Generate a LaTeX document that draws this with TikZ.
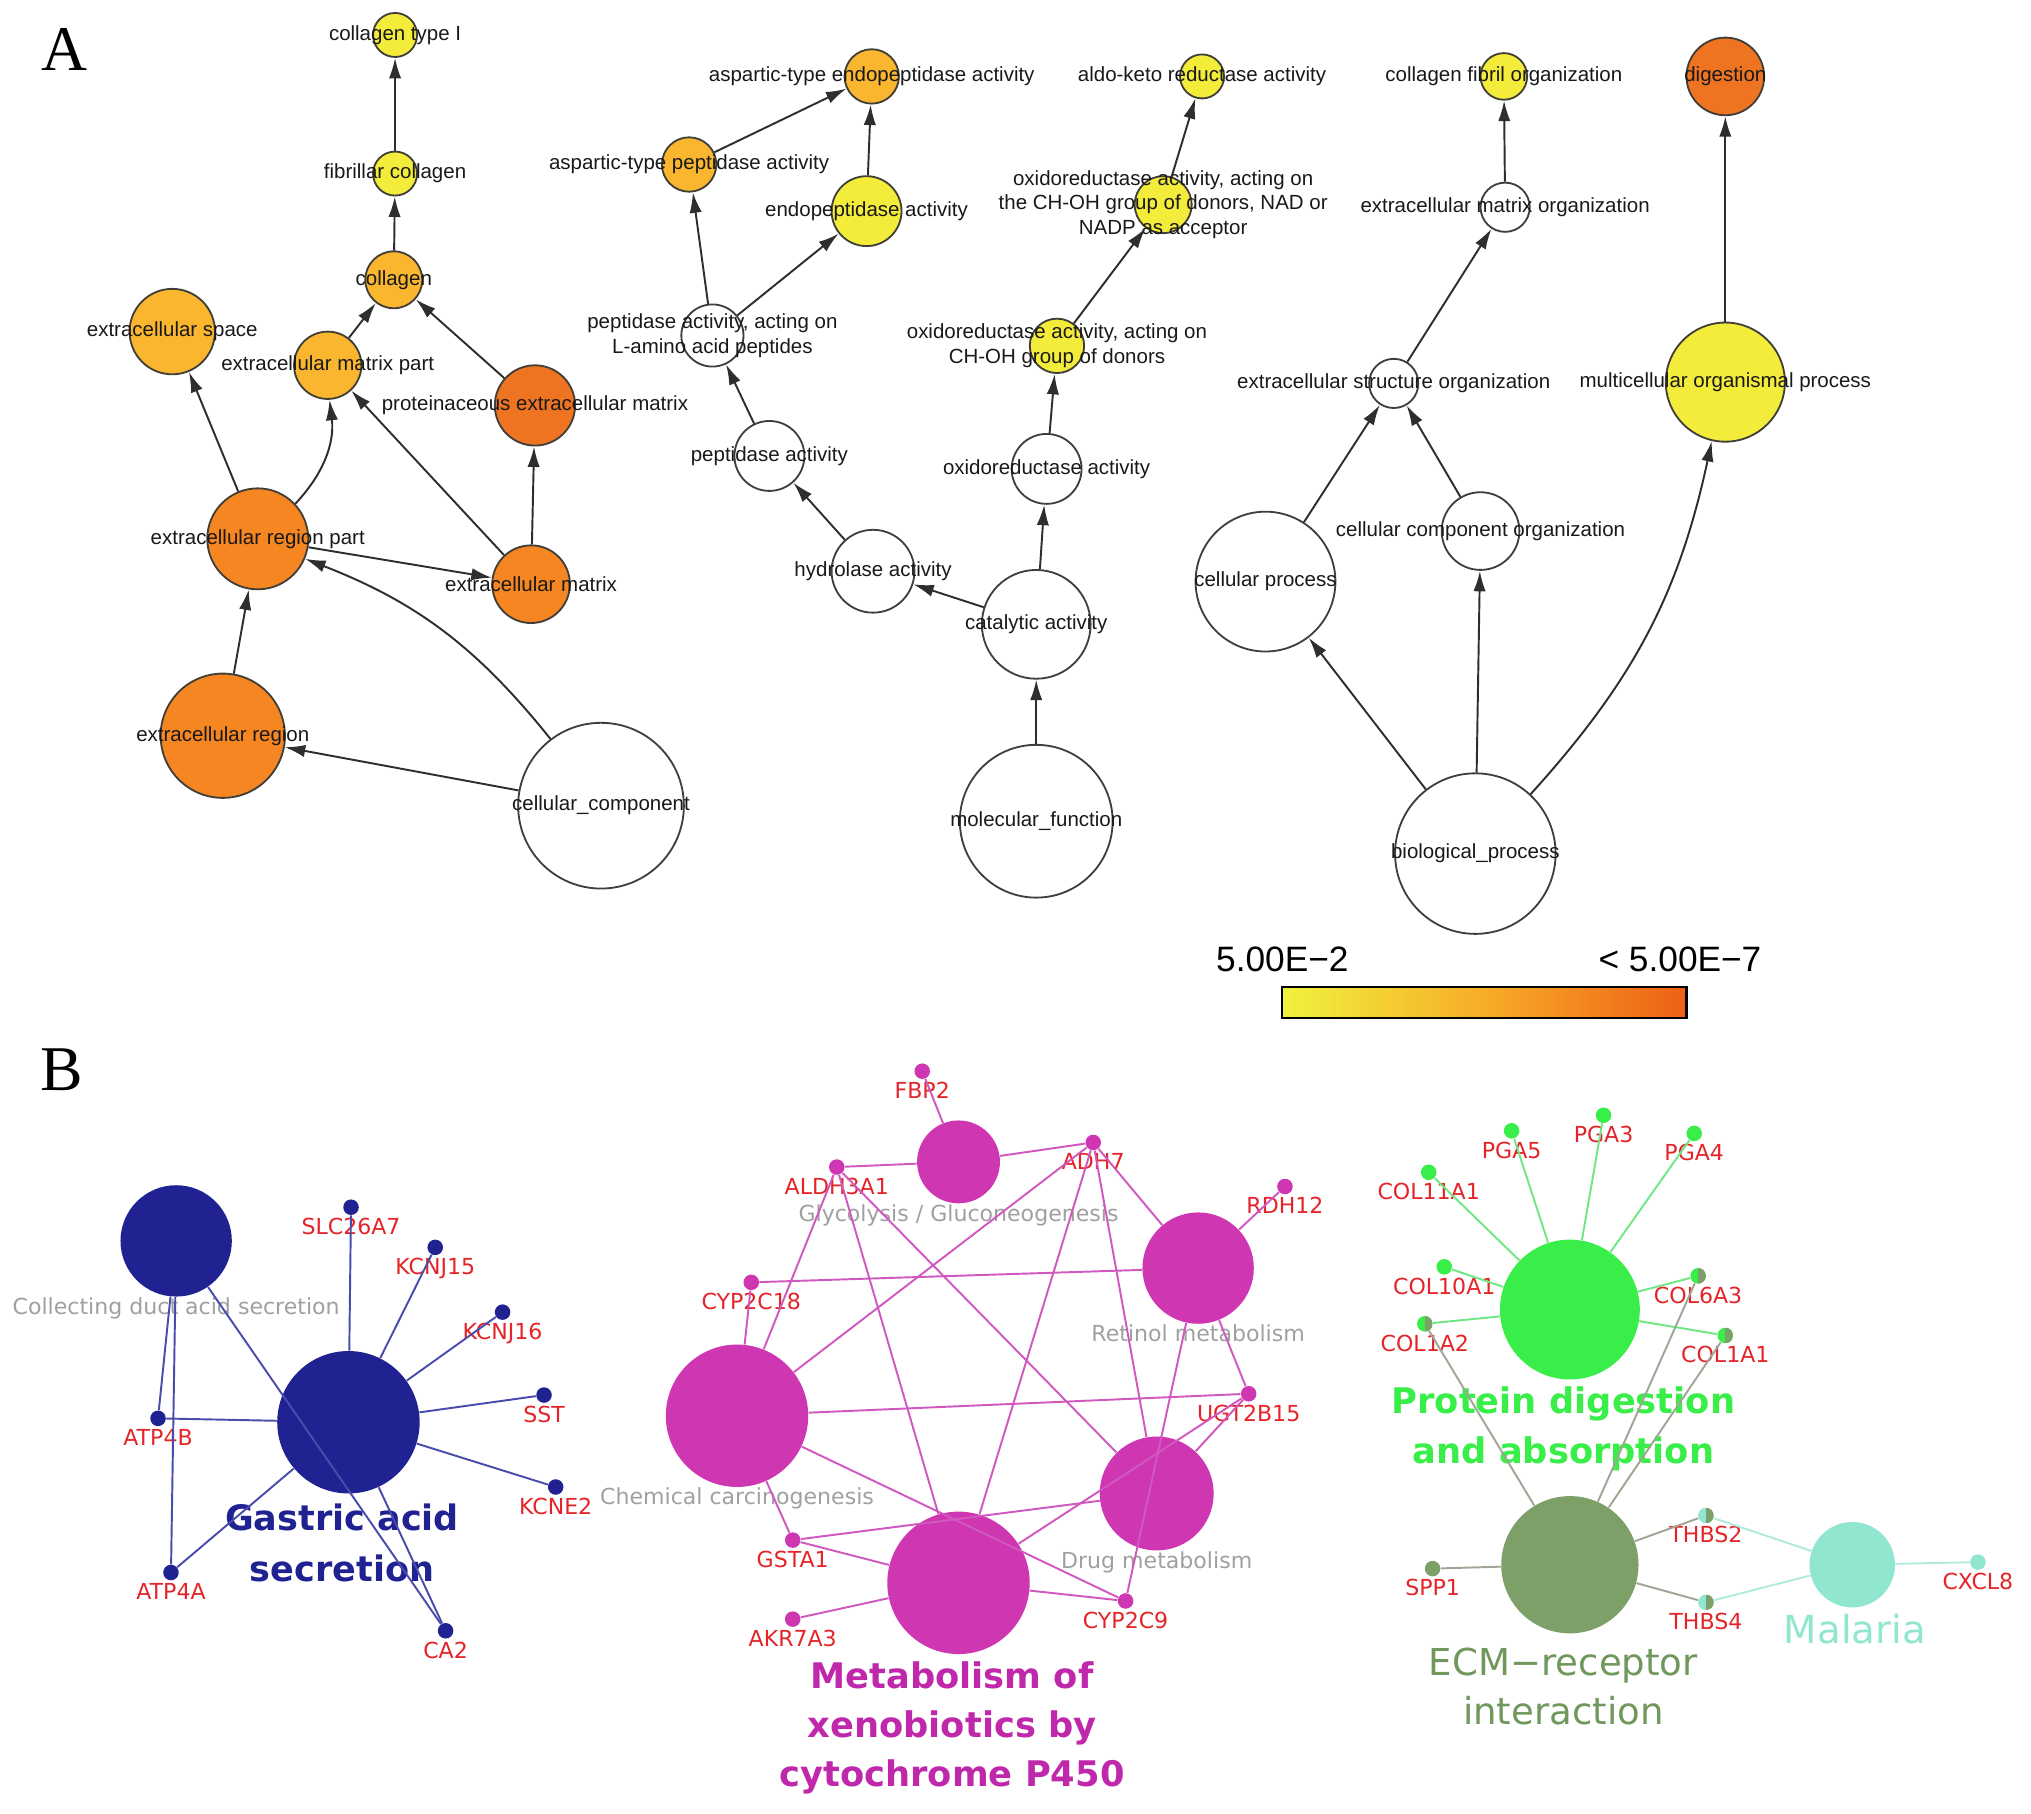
\documentclass[tikz,border=0pt]{standalone}
\usepackage{fontspec}
\setmainfont{Liberation Sans}
\newfontfamily\gofont{Liberation Sans}
\newfontfamily\keggfont{DejaVu Sans}
\newfontfamily\panelfont{Liberation Serif}
\usetikzlibrary{arrows.meta}

\definecolor{goyellow}{RGB}{244,236,58}
\definecolor{golight}{RGB}{249,182,46}
\definecolor{goorange}{RGB}{245,134,33}
\definecolor{godark}{RGB}{238,116,34}
\definecolor{goline}{RGB}{64,62,56}
\definecolor{goedge}{RGB}{46,46,46}
\definecolor{gotext}{RGB}{25,25,25}
\definecolor{cbyellow}{RGB}{240,242,62}
\definecolor{cbmid}{RGB}{247,172,40}
\definecolor{cbred}{RGB}{238,96,22}
\definecolor{gastblue}{RGB}{32,34,146}
\definecolor{gastline}{RGB}{74,76,172}
\definecolor{xenopink}{RGB}{206,54,178}
\definecolor{xenoline}{RGB}{208,88,190}
\definecolor{xenotext}{RGB}{192,40,172}
\definecolor{protgreen}{RGB}{58,238,74}
\definecolor{protline}{RGB}{112,230,132}
\definecolor{ecmgreen}{RGB}{124,160,104}
\definecolor{ecmline}{RGB}{160,166,150}
\definecolor{ecmtext}{RGB}{112,152,92}
\definecolor{malaqua}{RGB}{145,230,208}
\definecolor{malline}{RGB}{176,236,222}
\definecolor{genered}{RGB}{228,36,40}
\definecolor{pwgray}{RGB}{160,160,160}

\begin{document}
\begin{tikzpicture}[x=0.02cm, y=-0.02cm,
  go/.style={circle, draw=goline, line width=0.8pt, inner sep=0pt, minimum size=#1*0.04cm},
  golab/.style={font=\gofont\fontsize{9}{10.8}\selectfont, text=gotext, align=center, inner sep=0pt},
  goarrow/.style={draw=goedge, line width=0.85pt, -{Latex[length=9pt,width=5.4pt]}},
  cblab/.style={font=\gofont\fontsize{15.5}{16}\selectfont, text=black, inner sep=0pt},
  panel/.style={font=\panelfont\fontsize{28}{28}\selectfont, inner sep=0pt},
  pwnode/.style 2 args={circle, fill=#1, inner sep=0pt, minimum size=#2*0.04cm, label distance=2pt},
  pwlab/.style={font=\keggfont\fontsize{9.7}{11}\selectfont, text=pwgray, inner sep=0pt},
  gene/.style={circle, fill=#1, inner sep=0pt, minimum size=0.24cm, label distance=2.8pt},
  halfgene/.style 2 args={gene=#1, path picture={\fill[#2] (path picture bounding box.north) rectangle (path picture bounding box.south east);}},
  genelab/.style={font=\keggfont\fontsize{9.7}{11}\selectfont, text=genered, inner sep=1pt},
  biglab/.style={font=\keggfont\bfseries\fontsize{15.4}{22.5}\selectfont, align=center, inner sep=0pt},
  gastlink/.style={draw=gastline, line width=0.85pt},
  xenolink/.style={draw=xenoline, line width=0.85pt},
  protlink/.style={draw=protline, line width=0.85pt},
  ecmlink/.style={draw=ecmline, line width=0.85pt},
  mallink/.style={draw=malline, line width=0.85pt}]

\useasboundingbox (0,0) rectangle (1568,1400);

% ---- panel A
\node[panel] (panelA) at (50,38) {A};

% cellular component tree
\node[go=17, fill=goyellow, label={[golab]center:collagen type I}] (coltype) at (305,27) {};
\node[go=17, fill=goyellow, label={[golab]center:fibrillar collagen}] (fibcol) at (305,134) {};
\node[go=22, fill=golight, label={[golab]center:collagen}] (collagen) at (304,216) {};
\node[go=33, fill=golight, label={[golab]center:extracellular space}] (exspace) at (133,256) {};
\node[go=26, fill=golight, label={[golab]center:extracellular matrix part}] (exmpart) at (253,282) {};
\node[go=31, fill=godark, label={[golab]center:proteinaceous extracellular matrix}] (protmat) at (413,313) {};
\node[go=39, fill=goorange, label={[golab]center:extracellular region part}] (exrpart) at (199,416) {};
\node[go=30, fill=goorange, label={[golab]center:extracellular matrix}] (exmat) at (410,451) {};
\node[go=48, fill=goorange, label={[golab]center:extracellular region}] (exreg) at (172,568) {};
\node[go=64, fill=white, label={[golab]center:cellular\_component}] (cellcomp) at (464,622) {};

\draw[goarrow] (fibcol) -- (coltype);
\draw[goarrow] (collagen) -- (fibcol);
\draw[goarrow] (exmpart) -- (collagen);
\draw[goarrow] (protmat) -- (collagen);
\draw[goarrow] (exrpart) -- (exspace);
\draw[goarrow] (exrpart) to[bend right=25] (exmpart);
\draw[goarrow] (exmat) -- (exmpart);
\draw[goarrow] (exmat) -- (protmat);
\draw[goarrow] (exrpart) -- (exmat);
\draw[goarrow] (exreg) -- (exrpart);
\draw[goarrow] (cellcomp) -- (exreg);
\draw[goarrow] (cellcomp) to[bend right=15] (exrpart);

% molecular function tree
\node[go=21, fill=golight, label={[golab]center:aspartic-type endopeptidase activity}] (aspendo) at (673,59) {};
\node[go=21, fill=golight, label={[golab]center:aspartic-type peptidase activity}] (asppep) at (532,127) {};
\node[go=27, fill=goyellow, label={[golab]center:endopeptidase activity}] (endopep) at (669,163) {};
\node[go=24, fill=white, label={[golab]center:peptidase activity, acting on\\L-amino acid peptides}] (pepamino) at (550,259) {};
\node[go=27, fill=white, label={[golab]center:peptidase activity}] (pepact) at (594,352) {};
\node[go=32, fill=white, label={[golab]center:hydrolase activity}] (hydro) at (674,441) {};
\node[go=42, fill=white, label={[golab]center:catalytic activity}] (catal) at (800,482) {};
\node[go=59, fill=white, label={[golab]center:molecular\_function}] (molfun) at (800,634) {};
\node[go=27, fill=white, label={[golab]center:oxidoreductase activity}] (oxido) at (808,362) {};
\node[go=21, fill=goyellow, label={[golab]center:oxidoreductase activity, acting on\\CH-OH group of donors}] (chohgrp) at (816,267) {};
\node[go=22, fill=goyellow, label={[golab]center:oxidoreductase activity, acting on\\the CH-OH group of donors, NAD or\\NADP as acceptor}] (nadp) at (898,158) {};
\node[go=17, fill=goyellow, label={[golab]center:aldo-keto reductase activity}] (aldoketo) at (928,59) {};

\draw[goarrow] (asppep) -- (aspendo);
\draw[goarrow] (endopep) -- (aspendo);
\draw[goarrow] (pepamino) -- (asppep);
\draw[goarrow] (pepamino) -- (endopep);
\draw[goarrow] (pepact) -- (pepamino);
\draw[goarrow] (hydro) -- (pepact);
\draw[goarrow] (catal) -- (hydro);
\draw[goarrow] (molfun) -- (catal);
\draw[goarrow] (catal) -- (oxido);
\draw[goarrow] (oxido) -- (chohgrp);
\draw[goarrow] (chohgrp) -- (nadp);
\draw[goarrow] (nadp) -- (aldoketo);

% biological process tree
\node[go=18, fill=goyellow, label={[golab]center:collagen fibril organization}] (colfibril) at (1161,59) {};
\node[go=30, fill=godark, label={[golab]center:digestion}] (digest) at (1332,59) {};
\node[go=19, fill=white, label={[golab]center:extracellular matrix organization}] (exmorg) at (1162,160) {};
\node[go=19, fill=white, label={[golab]center:extracellular structure organization}] (exsorg) at (1076,296) {};
\node[go=46, fill=goyellow, label={[golab]center:multicellular organismal process}] (multi) at (1332,295) {};
\node[go=54, fill=white, label={[golab]center:cellular process}] (cellproc) at (977,449) {};
\node[go=30, fill=white, label={[golab]center:cellular component organization}] (ccorg) at (1143,410) {};
\node[go=62, fill=white, label={[golab]center:biological\_process}] (bioproc) at (1139,659) {};

\draw[goarrow] (exmorg) -- (colfibril);
\draw[goarrow] (exsorg) -- (exmorg);
\draw[goarrow] (cellproc) -- (exsorg);
\draw[goarrow] (ccorg) -- (exsorg);
\draw[goarrow] (bioproc) -- (cellproc);
\draw[goarrow] (bioproc) -- (ccorg);
\draw[goarrow] (bioproc) to[bend right=15] (multi);
\draw[goarrow] (multi) -- (digest);

% colour scale
\shade[left color=cbyellow, right color=cbred, middle color=cbmid] (990,762) rectangle (1302,786);
\draw[line width=1pt] (990,762) rectangle (1302,786);
\node[cblab] (cbmin) at (990,741) {5.00E−2};
\node[cblab] (cbmax) at (1297,741) {< 5.00E−7};

% ---- panel B
\node[panel] (panelB) at (48,826) {B};

% gastric acid secretion
\node[pwnode={gastblue}{43}, label={[pwlab]below:Collecting duct acid secretion}] (colduct) at (136,958) {};
\node[pwnode={gastblue}{55}] (gastric) at (269,1098) {};
\node[gene=gastblue, label={[genelab]below:SLC26A7}] (slc26a7) at (271,932) {};
\node[gene=gastblue, label={[genelab]below:KCNJ15}] (kcnj15) at (336,963) {};
\node[gene=gastblue, label={[genelab]below:KCNJ16}] (kcnj16) at (388,1013) {};
\node[gene=gastblue, label={[genelab]below:SST}] (sst) at (420,1077) {};
\node[gene=gastblue, label={[genelab]below:KCNE2}] (kcne2) at (429,1148) {};
\node[gene=gastblue, label={[genelab]below:CA2}] (ca2) at (344,1259) {};
\node[gene=gastblue, label={[genelab]below:ATP4A}] (atp4a) at (132,1214) {};
\node[gene=gastblue, label={[genelab]below:ATP4B}] (atp4b) at (122,1095) {};
\node[biglab, text=gastblue] (gastlab) at (264,1191) {Gastric acid\\secretion};

\draw[gastlink] (gastric) -- (slc26a7);
\draw[gastlink] (gastric) -- (kcnj15);
\draw[gastlink] (gastric) -- (kcnj16);
\draw[gastlink] (gastric) -- (sst);
\draw[gastlink] (gastric) -- (kcne2);
\draw[gastlink] (gastric) -- (ca2);
\draw[gastlink] (gastric) -- (atp4a);
\draw[gastlink] (gastric) -- (atp4b);
\draw[gastlink] (colduct) -- (atp4b);
\draw[gastlink] (colduct) -- (atp4a);
\draw[gastlink] (colduct) -- (ca2);

% xenobiotics cluster
\node[pwnode={xenopink}{32}, label={[pwlab]below:Glycolysis / Gluconeogenesis}] (glyco) at (740,897) {};
\node[pwnode={xenopink}{43}, label={[pwlab]below:Retinol metabolism}] (retinol) at (925,979) {};
\node[pwnode={xenopink}{55}, label={[pwlab]below:Chemical carcinogenesis}] (chemcarc) at (569,1093) {};
\node[pwnode={xenopink}{44}, label={[pwlab]below:Drug metabolism}] (drugmet) at (893,1153) {};
\node[pwnode={xenopink}{55}] (xeno) at (740,1222) {};
\node[gene=xenopink, label={[genelab]below:FBP2}] (fbp2) at (712,827) {};
\node[gene=xenopink, label={[genelab]below:ADH7}] (adh7) at (844,882) {};
\node[gene=xenopink, label={[genelab]below:ALDH3A1}] (aldh3a1) at (646,901) {};
\node[gene=xenopink, label={[genelab]below:RDH12}] (rdh12) at (992,916) {};
\node[gene=xenopink, label={[genelab]below:CYP2C18}] (cyp2c18) at (580,990) {};
\node[gene=xenopink, label={[genelab]below:UGT2B15}] (ugt2b15) at (964,1076) {};
\node[gene=xenopink, label={[genelab]below:GSTA1}] (gsta1) at (612,1189) {};
\node[gene=xenopink, label={[genelab]below:AKR7A3}] (akr7a3) at (612,1250) {};
\node[gene=xenopink, label={[genelab]below:CYP2C9}] (cyp2c9) at (869,1236) {};
\node[biglab, text=xenotext, font=\keggfont\bfseries\fontsize{15.5}{21.5}\selectfont] (xenolab) at (735,1334) {Metabolism of\\xenobiotics by\\cytochrome P450};

\draw[xenolink] (fbp2) -- (glyco);
\draw[xenolink] (aldh3a1) -- (glyco);
\draw[xenolink] (glyco) -- (adh7);
\draw[xenolink] (adh7) -- (retinol);
\draw[xenolink] (adh7) -- (chemcarc);
\draw[xenolink] (adh7) -- (xeno);
\draw[xenolink] (adh7) -- (drugmet);
\draw[xenolink] (rdh12) -- (retinol);
\draw[xenolink] (cyp2c18) -- (retinol);
\draw[xenolink] (cyp2c18) -- (chemcarc);
\draw[xenolink] (aldh3a1) -- (chemcarc);
\draw[xenolink] (aldh3a1) -- (xeno);
\draw[xenolink] (aldh3a1) -- (drugmet);
\draw[xenolink] (chemcarc) -- (ugt2b15);
\draw[xenolink] (chemcarc) -- (cyp2c9);
\draw[xenolink] (chemcarc) -- (gsta1);
\draw[xenolink] (gsta1) -- (drugmet);
\draw[xenolink] (gsta1) -- (xeno);
\draw[xenolink] (akr7a3) -- (xeno);
\draw[xenolink] (xeno) -- (cyp2c9);
\draw[xenolink] (xeno) -- (ugt2b15);
\draw[xenolink] (drugmet) -- (ugt2b15);
\draw[xenolink] (retinol) -- (ugt2b15);
\draw[xenolink] (retinol) -- (cyp2c9);

% protein digestion / ECM / malaria
\node[pwnode={protgreen}{54}] (protdig) at (1212,1011) {};
\node[pwnode={ecmgreen}{53}] (ecm) at (1212,1208) {};
\node[pwnode={malaqua}{33}] (malaria) at (1430,1208) {};
\node[gene=protgreen, label={[genelab]below:COL11A1}] (col11a1) at (1103,905) {};
\node[gene=protgreen, label={[genelab]below:PGA5}] (pga5) at (1167,873) {};
\node[gene=protgreen, label={[genelab]below:PGA3}] (pga3) at (1238,861) {};
\node[gene=protgreen, label={[genelab]below:PGA4}] (pga4) at (1308,875) {};
\node[gene=protgreen, label={[genelab]below:COL10A1}] (col10a1) at (1115,978) {};
\node[halfgene={protgreen}{ecmgreen}, label={[genelab]below:COL6A3}] (col6a3) at (1311,985) {};
\node[halfgene={protgreen}{ecmgreen}, label={[genelab]below:COL1A2}] (col1a2) at (1100,1022) {};
\node[halfgene={protgreen}{ecmgreen}, label={[genelab]below:COL1A1}] (col1a1) at (1332,1031) {};
\node[halfgene={malaqua}{ecmgreen}, label={[genelab]below:THBS2}] (thbs2) at (1317,1170) {};
\node[halfgene={malaqua}{ecmgreen}, label={[genelab]below:THBS4}] (thbs4) at (1317,1237) {};
\node[gene=ecmgreen, label={[genelab]below:SPP1}] (spp1) at (1106,1211) {};
\node[gene=malaqua, label={[genelab]below:CXCL8}] (cxcl8) at (1527,1206) {};
\node[biglab, text=protgreen, font=\keggfont\bfseries\fontsize{15.5}{22}\selectfont] (protlab) at (1207,1103) {Protein digestion\\and absorption};
\node[biglab, text=ecmtext, font=\keggfont\fontsize{16.3}{21.5}\selectfont] (ecmlab) at (1207,1302) {ECM−receptor\\interaction};
\node[biglab, text=malaqua, font=\keggfont\fontsize{17}{20}\selectfont] (mallab) at (1432,1258) {Malaria};

\draw[protlink] (protdig) -- (col11a1);
\draw[protlink] (protdig) -- (pga5);
\draw[protlink] (protdig) -- (pga3);
\draw[protlink] (protdig) -- (pga4);
\draw[protlink] (protdig) -- (col10a1);
\draw[protlink] (protdig) -- (col6a3);
\draw[protlink] (protdig) -- (col1a2);
\draw[protlink] (protdig) -- (col1a1);
\draw[ecmlink] (ecm) -- (col1a2);
\draw[ecmlink] (ecm) -- (col6a3);
\draw[ecmlink] (ecm) -- (col1a1);
\draw[ecmlink] (ecm) -- (spp1);
\draw[ecmlink] (ecm) -- (thbs2);
\draw[ecmlink] (ecm) -- (thbs4);
\draw[mallink] (malaria) -- (thbs2);
\draw[mallink] (malaria) -- (thbs4);
\draw[mallink] (malaria) -- (cxcl8);

\end{tikzpicture}
\end{document}
